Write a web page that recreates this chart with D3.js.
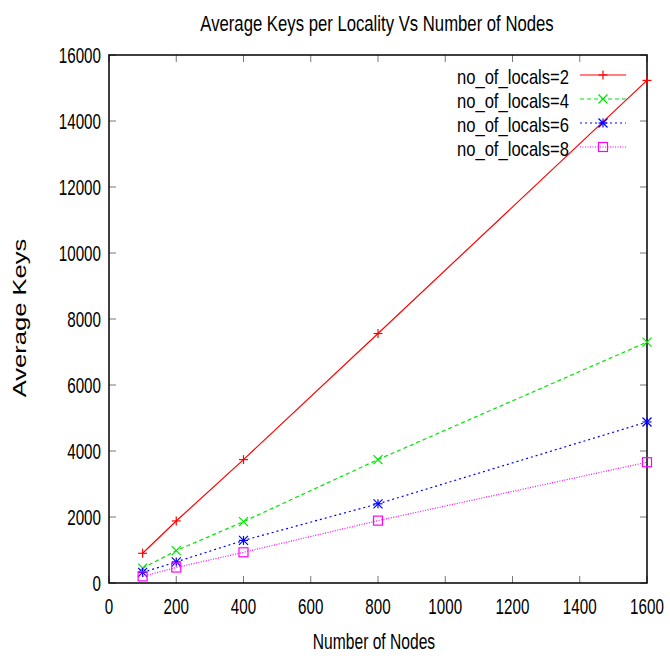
<!DOCTYPE html>
<html><head><meta charset="utf-8">
<script src="https://cdn.jsdelivr.net/npm/d3@7"></script>
<style>body{margin:0;background:#fff}</style>
</head><body>
<svg id="c" width="670" height="659"></svg>
<script>
const nodes = [100, 200, 400, 800, 1600];
const locals2 = [900, 1880, 3740, 7560, 15230];
const locals4 = [450, 980, 1860, 3740, 7300];
const locals6 = [320, 640, 1290, 2400, 4880];
const locals8 = [200, 470, 930, 1890, 3660];
const seriesNames = ["no_of_locals=2", "no_of_locals=4", "no_of_locals=6", "no_of_locals=8"];
const xTicks = [0, 200, 400, 600, 800, 1000, 1200, 1400, 1600];
const yTicks = [0, 2000, 4000, 6000, 8000, 10000, 12000, 14000, 16000];

const series = [
  {name: seriesNames[0], values: locals2, color: "#ff0000", dash: null, marker: "plus"},
  {name: seriesNames[1], values: locals4, color: "#00e600", dash: "4,3", marker: "cross"},
  {name: seriesNames[2], values: locals6, color: "#0000ff", dash: "2,3", marker: "star"},
  {name: seriesNames[3], values: locals8, color: "#ff00ff", dash: "1,1.5", marker: "square"}
];

const L = 109, R = 647, T = 55, B = 583;
const x = d3.scaleLinear().domain([0, 1600]).range([L, R]);
const y = d3.scaleLinear().domain([0, 16000]).range([B, T]);
const svg = d3.select("#c");
const FONT = "'Liberation Sans', Arial, Helvetica, sans-serif";

function label(px, py, str, size, sx, anchor, rot) {
  return svg.append("text")
    .attr("transform", `translate(${px},${py})${rot ? " rotate(" + rot + ")" : ""} scale(${sx},1)`)
    .attr("text-anchor", anchor).attr("font-family", FONT)
    .attr("font-size", size).attr("fill", "#000").text(str);
}

// ticks (inward, mirrored)
const tl = 7;
const tg = svg.append("g").attr("stroke", "#777").attr("stroke-width", 1);
xTicks.forEach(v => {
  tg.append("line").attr("x1", x(v)).attr("x2", x(v)).attr("y1", B).attr("y2", B - tl);
  tg.append("line").attr("x1", x(v)).attr("x2", x(v)).attr("y1", T).attr("y2", T + tl);
});
yTicks.forEach(v => {
  tg.append("line").attr("x1", L).attr("x2", L + tl).attr("y1", y(v)).attr("y2", y(v));
  tg.append("line").attr("x1", R).attr("x2", R - tl).attr("y1", y(v)).attr("y2", y(v));
});

// tick labels
xTicks.forEach(v => label(x(v), B + 31, String(v), 22, 0.69, "middle"));
yTicks.forEach(v => label(L - 8, y(v) + 8, String(v), 22, 0.69, "end"));

// frame
svg.append("rect").attr("x", L).attr("y", T).attr("width", R - L).attr("height", B - T)
  .attr("fill", "none").attr("stroke", "#000").attr("stroke-width", 1.5);

// titles
label(377, 31, "Average Keys per Locality Vs Number of Nodes", 22, 0.76, "middle");
label(374, 649, "Number of Nodes", 22, 0.71, "middle");
label(26, 318, "Average Keys", 18, 1.42, "middle", -90);

function marker(g, type, cx, cy, color) {
  const s = 4.5;
  const m = g.append("g").attr("stroke", color).attr("stroke-width", 1.2).attr("fill", "none");
  if (type === "plus" || type === "star") {
    m.append("line").attr("x1", cx - s).attr("x2", cx + s).attr("y1", cy).attr("y2", cy);
    m.append("line").attr("x1", cx).attr("x2", cx).attr("y1", cy - s).attr("y2", cy + s);
  }
  if (type === "cross" || type === "star") {
    m.append("line").attr("x1", cx - s).attr("x2", cx + s).attr("y1", cy - s).attr("y2", cy + s);
    m.append("line").attr("x1", cx - s).attr("x2", cx + s).attr("y1", cy + s).attr("y2", cy - s);
  }
  if (type === "square") {
    m.append("rect").attr("x", cx - s).attr("y", cy - s).attr("width", 2 * s).attr("height", 2 * s);
  }
}

const line = d3.line().x(d => x(d[0])).y(d => y(d[1]));
series.forEach(s => {
  const pts = nodes.map((n, i) => [n, s.values[i]]);
  svg.append("path").datum(pts).attr("d", line).attr("fill", "none")
    .attr("stroke", s.color).attr("stroke-width", 1.2)
    .attr("stroke-dasharray", s.dash);
  pts.forEach(p => marker(svg, s.marker, x(p[0]), y(p[1]), s.color));
});

// legend
series.forEach((s, i) => {
  const ly = 75 + i * 24;
  label(569, ly + 9, s.name, 20, 0.83, "end");
  svg.append("line").attr("x1", 580).attr("x2", 626).attr("y1", ly).attr("y2", ly)
    .attr("stroke", s.color).attr("stroke-width", 1.2).attr("stroke-dasharray", s.dash);
  marker(svg, s.marker, 603, ly, s.color);
});
</script>
</body></html>
